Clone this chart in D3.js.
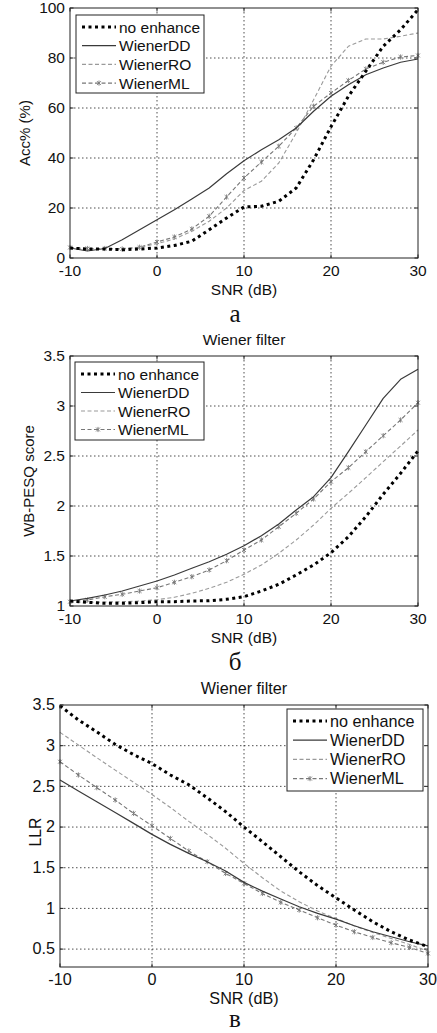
<!DOCTYPE html>
<html>
<head>
<meta charset="utf-8">
<script src="https://cdn.jsdelivr.net/npm/d3@7"></script>
<style>
  body { margin: 0; background: #fff; }
  text { font-family: "Liberation Sans", Arial, sans-serif; fill: #111; }
</style>
</head>
<body>
<svg id="chart" width="437" height="1033"></svg>
<script>
// SNR points (dB)
const snr = [-10, -8, -6, -4, -2, 0, 2, 4, 6, 8, 10, 12, 14, 16, 18, 20, 22, 24, 26, 28, 30];
const seriesNames = ["no enhance", "WienerDD", "WienerRO", "WienerML"];

// panel a: Acc% (%)
const accNoEnh = [4.0, 3.6, 3.6, 3.3, 3.6, 4.0, 5.0, 6.7, 11.3, 16.0, 20.4, 20.7, 22.7, 28.0, 39.3, 52.5, 64.7, 74.7, 84.7, 91.3, 99.3];
const accDD    = [4.0, 2.8, 3.8, 7.3, 11.3, 15.3, 19.3, 23.6, 28.0, 33.7, 38.9, 43.3, 47.3, 52.0, 58.7, 64.7, 69.3, 73.3, 76.0, 78.3, 79.6];
const accRO    = [4.0, 3.6, 3.6, 3.8, 4.3, 5.7, 7.6, 10.7, 14.7, 20.0, 27.0, 30.7, 38.0, 50.0, 63.3, 76.7, 84.7, 87.6, 87.6, 88.7, 90.0];
const accML    = [4.2, 3.8, 3.8, 3.6, 4.3, 6.4, 8.4, 11.6, 16.7, 24.4, 32.0, 38.4, 44.7, 52.0, 60.7, 66.0, 71.0, 75.6, 78.3, 80.4, 81.0];

// panel b: WB-PESQ score
const pesqNoEnh = [1.05, 1.037, 1.027, 1.027, 1.033, 1.043, 1.043, 1.05, 1.053, 1.067, 1.093, 1.15, 1.217, 1.31, 1.41, 1.533, 1.693, 1.893, 2.117, 2.327, 2.55];
const pesqDD    = [1.05, 1.077, 1.11, 1.15, 1.2, 1.25, 1.31, 1.377, 1.443, 1.517, 1.603, 1.703, 1.82, 1.96, 2.093, 2.283, 2.543, 2.81, 3.077, 3.267, 3.367];
const pesqRO    = [1.037, 1.037, 1.04, 1.043, 1.05, 1.063, 1.087, 1.127, 1.177, 1.237, 1.317, 1.41, 1.527, 1.66, 1.81, 1.977, 2.127, 2.283, 2.443, 2.6, 2.76];
const pesqML    = [1.043, 1.06, 1.093, 1.117, 1.15, 1.183, 1.237, 1.293, 1.36, 1.453, 1.56, 1.66, 1.793, 1.927, 2.07, 2.243, 2.383, 2.543, 2.703, 2.86, 3.033];

// panel c: LLR
const llrNoEnh = [3.49, 3.316, 3.17, 3.016, 2.89, 2.78, 2.64, 2.52, 2.36, 2.19, 2.0, 1.82, 1.635, 1.45, 1.28, 1.13, 0.98, 0.836, 0.713, 0.61, 0.53];
const llrDD    = [2.578, 2.443, 2.31, 2.18, 2.045, 1.91, 1.787, 1.676, 1.574, 1.459, 1.32, 1.213, 1.115, 1.02, 0.939, 0.869, 0.787, 0.713, 0.652, 0.59, 0.54];
const llrRO    = [3.164, 3.008, 2.852, 2.70, 2.55, 2.40, 2.24, 2.07, 1.91, 1.74, 1.553, 1.377, 1.213, 1.082, 0.967, 0.877, 0.783, 0.705, 0.631, 0.557, 0.475];
const llrML    = [2.803, 2.64, 2.484, 2.332, 2.168, 2.016, 1.86, 1.705, 1.574, 1.43, 1.307, 1.184, 1.074, 0.98, 0.885, 0.795, 0.713, 0.643, 0.578, 0.52, 0.447];

const xTicks = [-10, 0, 10, 20, 30];
const accTicks = [0, 20, 40, 60, 80, 100];
const pesqTicks = [1, 1.5, 2, 2.5, 3, 3.5];
const llrTicks = [0.5, 1, 1.5, 2, 2.5, 3, 3.5];

const styles = {
  "no enhance": {stroke: "#000", width: 3, dash: "3,3.5"},
  "WienerDD":   {stroke: "#3a3a3a", width: 1.2, dash: null},
  "WienerRO":   {stroke: "#9a9a9a", width: 1.1, dash: "4,2.5"},
  "WienerML":   {stroke: "#777", width: 1.1, dash: "4,2.5", marker: true}
};

const svg = d3.select("#chart");

function drawPanel(p) {
  const fs = p.fontSize;
  const x = d3.scaleLinear().domain([-10, 30]).range([p.left, p.right]);
  const y = d3.scaleLinear().domain(p.yDomain).range([p.bottom, p.top]);
  const g = svg.append("g");

  // grid (dotted)
  const grid = g.append("g").attr("stroke", "#222").attr("stroke-width", 0.8)
    .attr("stroke-dasharray", "1.5,2.5");
  grid.selectAll(".gx").data(xTicks.slice(1, -1)).join("line")
    .attr("x1", d => x(d)).attr("x2", d => x(d))
    .attr("y1", p.top).attr("y2", p.bottom);
  grid.selectAll(".gy").data(p.yTicks.filter(d => y(d) < p.bottom - 1 && y(d) > p.top + 1)).join("line")
    .attr("x1", p.left).attr("x2", p.right)
    .attr("y1", d => y(d)).attr("y2", d => y(d));

  // series
  const series = [p.data[0], p.data[1], p.data[2], p.data[3]];
  const line = d3.line().x((d, i) => x(snr[i])).y(d => y(d));
  const order = [3, 2, 1, 0];
  order.forEach(k => {
    const st = styles[seriesNames[k]];
    g.append("path").datum(series[k])
      .attr("fill", "none")
      .attr("stroke", st.stroke)
      .attr("stroke-width", st.width)
      .attr("stroke-dasharray", st.dash)
      .attr("stroke-linejoin", "round")
      .attr("d", line);
    if (st.marker) {
      g.append("g").attr("stroke", st.stroke).attr("stroke-width", 0.9)
        .selectAll("path").data(series[k]).join("path")
        .attr("d", (d, i) => asterisk(x(snr[i]), y(d), 2.6));
    }
  });

  // box
  g.append("rect").attr("x", p.left).attr("y", p.top)
    .attr("width", p.right - p.left).attr("height", p.bottom - p.top)
    .attr("fill", "none").attr("stroke", "#222").attr("stroke-width", 1);

  // inward ticks
  const tk = g.append("g").attr("stroke", "#222").attr("stroke-width", 1);
  xTicks.forEach(t => {
    tk.append("line").attr("x1", x(t)).attr("x2", x(t)).attr("y1", p.bottom).attr("y2", p.bottom - 3.5);
    tk.append("line").attr("x1", x(t)).attr("x2", x(t)).attr("y1", p.top).attr("y2", p.top + 3.5);
  });
  p.yTicks.forEach(t => {
    tk.append("line").attr("x1", p.left).attr("x2", p.left + 3.5).attr("y1", y(t)).attr("y2", y(t));
    tk.append("line").attr("x1", p.right).attr("x2", p.right - 3.5).attr("y1", y(t)).attr("y2", y(t));
  });

  // tick labels
  g.selectAll(".xl").data(xTicks).join("text")
    .attr("x", d => x(d)).attr("y", p.bottom + 6).attr("dy", "0.75em")
    .attr("text-anchor", "middle").attr("font-size", fs).text(d => d);
  g.selectAll(".yl").data(p.yTicks).join("text")
    .attr("x", p.left - 5).attr("y", d => y(d)).attr("dy", "0.33em")
    .attr("text-anchor", "end").attr("font-size", fs).text(d => d);

  // axis labels
  g.append("text").attr("x", (p.left + p.right) / 2).attr("y", p.bottom + 37)
    .attr("text-anchor", "middle").attr("font-size", fs).text("SNR (dB)");
  g.append("text")
    .attr("transform", `translate(${p.yLabelX},${p.yLabelY}) rotate(-90)`)
    .attr("text-anchor", "middle").attr("font-size", fs - 0.5).text(p.yLabel);
  if (p.title) {
    g.append("text").attr("x", (p.left + p.right) / 2).attr("y", p.top - 11)
      .attr("text-anchor", "middle").attr("font-size", fs).text(p.title);
  }
  g.append("text").attr("x", 235).attr("y", p.captionY)
    .attr("text-anchor", "middle").attr("font-size", 25)
    .style("font-family", "'Liberation Serif', 'Times New Roman', serif")
    .text(p.caption);

  // legend
  const L = p.legend;
  const lg = g.append("g");
  lg.append("rect").attr("x", L.x).attr("y", L.y).attr("width", L.w).attr("height", L.h)
    .attr("fill", "#fff").attr("stroke", "#222").attr("stroke-width", 1);
  seriesNames.forEach((name, i) => {
    const st = styles[name];
    const cy = L.y + 12 + i * L.step;
    lg.append("line").attr("x1", L.x + 6).attr("x2", L.x + 40).attr("y1", cy).attr("y2", cy)
      .attr("stroke", st.stroke).attr("stroke-width", st.width)
      .attr("stroke-dasharray", st.dash);
    if (st.marker) {
      lg.append("path").attr("d", asterisk(L.x + 23, cy, 2.6))
        .attr("stroke", st.stroke).attr("stroke-width", 0.9);
    }
    lg.append("text").attr("x", L.x + 43).attr("y", cy).attr("dy", "0.36em")
      .attr("font-size", fs).text(name);
  });
}

function asterisk(cx, cy, r) {
  const a = r * 0.75;
  return `M${cx - a},${cy - a}L${cx + a},${cy + a}M${cx - a},${cy + a}L${cx + a},${cy - a}M${cx},${cy - r}L${cx},${cy + r}`;
}

drawPanel({
  left: 70, right: 418, top: 8, bottom: 258, yDomain: [0, 100], yTicks: accTicks,
  data: [accNoEnh, accDD, accRO, accML], yLabel: "Acc% (%)", yLabelX: 30, yLabelY: 133,
  title: null, caption: "а", captionY: 322, fontSize: 15.5,
  legend: {x: 76, y: 15, w: 128, h: 78, step: 18.7}
});
drawPanel({
  left: 70, right: 418, top: 356, bottom: 606, yDomain: [1, 3.5], yTicks: pesqTicks,
  data: [pesqNoEnh, pesqDD, pesqRO, pesqML], yLabel: "WB-PESQ score", yLabelX: 34, yLabelY: 481,
  title: "Wiener filter", caption: "б", captionY: 670, fontSize: 15.5,
  legend: {x: 75, y: 362, w: 129, h: 78, step: 18.5}
});
drawPanel({
  left: 60, right: 428, top: 705, bottom: 967, yDomain: [0.28, 3.5], yTicks: llrTicks,
  data: [llrNoEnh, llrDD, llrRO, llrML], yLabel: "LLR", yLabelX: 41, yLabelY: 832,
  title: "Wiener filter", caption: "в", captionY: 1027, fontSize: 16.2,
  legend: {x: 287, y: 709, w: 136, h: 82, step: 19.2}
});
</script>
</body>
</html>
